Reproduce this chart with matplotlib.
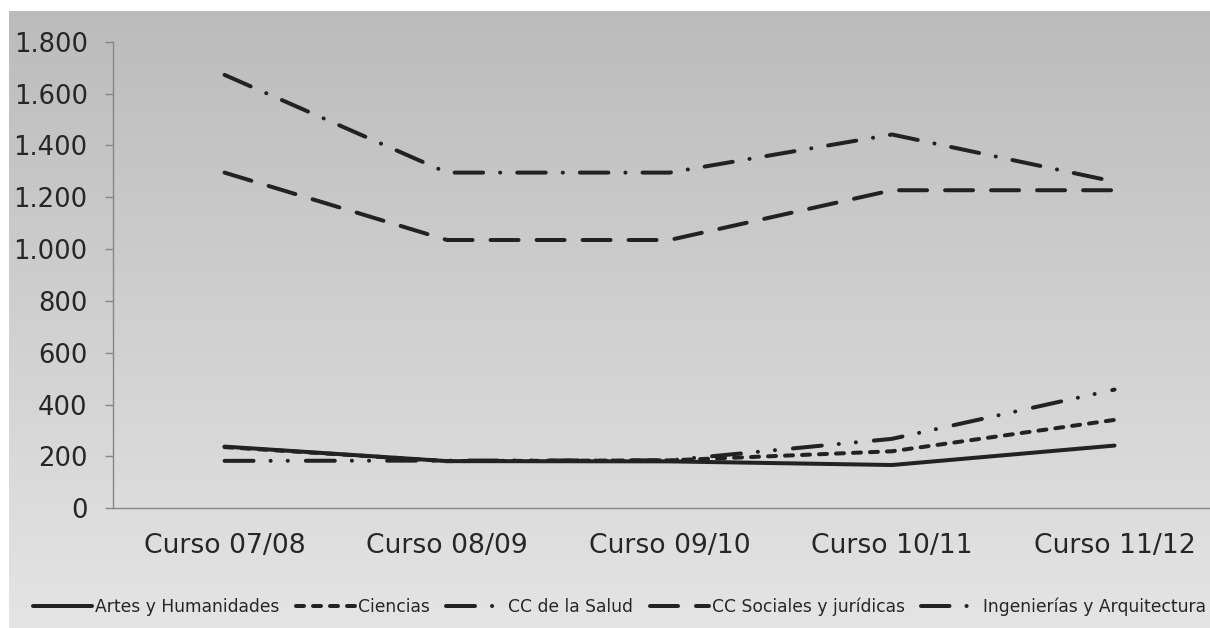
# plot.py
# Evolucion por rama de conocimiento, cursos 07/08 a 11/12.

import numpy as np
import matplotlib
matplotlib.use("Agg")
import matplotlib.pyplot as plt
from matplotlib.ticker import FuncFormatter

# Datos
cursos = ["Curso 07/08", "Curso 08/09", "Curso 09/10", "Curso 10/11", "Curso 11/12"]
artes = [238, 182, 181, 167, 242]
ciencias = [236, 182, 185, 220, 341]
salud = [183, 184, 185, 268, 458]
sociales = [1295, 1035, 1035, 1227, 1227]
ingenierias = [1672, 1295, 1295, 1442, 1260]

nombres = ["Artes y Humanidades", "Ciencias", "CC de la Salud",
           "CC Sociales y jurídicas", "Ingenierías y Arquitectura"]

W, H = 1210, 628
PX = 0.72  # px -> pt a 100 dpi

plt.rcParams["lines.scale_dashes"] = False
plt.rcParams["font.family"] = "DejaVu Sans"

fig = plt.figure(figsize=(W / 100, H / 100), dpi=100)
fig.patch.set_facecolor("white")

# fondo degradado gris
bg = fig.add_axes([9 / W, 0, 1 - 9 / W, (H - 11) / H], zorder=0)
grad = np.linspace(0.735, 0.895, 256).reshape(-1, 1)
bg.imshow(np.dstack([grad, grad, grad]), aspect="auto", extent=[0, 1, 0, 1], origin="upper")
bg.set_axis_off()

ax = fig.add_axes([113.3 / W, (H - 508.3) / H, 5 * 222.5 / W, (508.3 - 41.7) / H], zorder=1)
ax.patch.set_alpha(0)

x = np.arange(len(cursos))
col = "#222222"
lw = 4 * PX

estilos = [
    "-",
    (0, (8 * PX, 9 * PX)),
    (0, (29 * PX, 17 * PX, 0.1, 17 * PX, 0.1, 18 * PX)),
    (0, (28 * PX, 18 * PX)),
    (0, (28.5 * PX, 17 * PX, 0.1, 17 * PX)),
]
series = [artes, ciencias, salud, sociales, ingenierias]

for serie, ls, nombre in zip(series, estilos, nombres):
    ax.plot(x, serie, color=col, linewidth=lw, linestyle=ls, label=nombre,
            solid_capstyle="round", dash_capstyle="round", solid_joinstyle="round")

ax.set_xlim(-0.5, 4.5)
ax.set_ylim(0, 1800)
ax.set_yticks(np.arange(0, 1801, 200))
ax.yaxis.set_major_formatter(FuncFormatter(lambda v, p: f"{v:,.0f}".replace(",", ".")))
ax.set_xticks(x)
ax.set_xticklabels(cursos)

for s in ["top", "right"]:
    ax.spines[s].set_visible(False)
for s in ["left", "bottom"]:
    ax.spines[s].set_color("#868686")
    ax.spines[s].set_linewidth(1.0)

ax.tick_params(axis="y", length=8 * PX, width=1.0, color="#868686", pad=12.7,
               labelsize=18.6, labelcolor="#262626")
ax.tick_params(axis="x", length=0, pad=17.5, labelsize=19.2, labelcolor="#262626")

fs = 12.3
leg = fig.legend(loc="center left", bbox_to_anchor=(33 / W, (H - 607) / H), ncol=5,
                 frameon=False, fontsize=fs, borderpad=0, borderaxespad=0,
                 handlelength=59 / (fs / PX), handletextpad=3 / (fs / PX),
                 columnspacing=16.5 / (fs / PX))
for t in leg.get_texts():
    t.set_color("#262626")

fig.savefig("out.png", dpi=100)
